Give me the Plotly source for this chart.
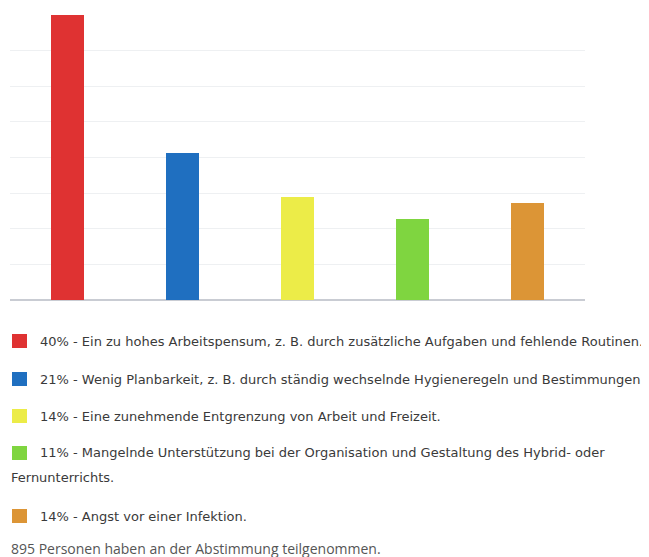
import plotly.graph_objects as go

# Data
categories = ["A", "B", "C", "D", "E"]
bar_values = [40, 20.7, 14.4, 11.4, 13.6]
percent_labels = ["40%", "21%", "14%", "11%", "14%"]
answers = [
    "Ein zu hohes Arbeitspensum, z. B. durch zusätzliche Aufgaben und fehlende Routinen.",
    "Wenig Planbarkeit, z. B. durch ständig wechselnde Hygieneregeln und Bestimmungen.",
    "Eine zunehmende Entgrenzung von Arbeit und Freizeit.",
    "Mangelnde Unterstützung bei der Organisation und Gestaltung des Hybrid- oder<br>Fernunterrichts.",
    "Angst vor einer Infektion.",
]
colors = ["#df3232", "#1f6fc0", "#ecec48", "#7fd540", "#dc9536"]
footer = "895 Personen haben an der Abstimmung teilgenommen."

OFF = 8  # page body margin
W, H = 649 - OFF, 557 - OFF
# plot area in page pixels: x 10..585, y 15..300
L = 10 - OFF
T = 15 - OFF
R = W - (585 - OFF)
B = H - (300 - OFF)
plot_h = H - T - B
plot_w = W - L - R

def px(x):
    return (x - OFF - L) / plot_w

def py(y):
    return (H - B - (y - OFF)) / plot_h

fig = go.Figure()
fig.add_trace(go.Bar(
    x=list(range(len(categories))), y=bar_values,
    marker=dict(color=colors, line=dict(width=0)),
    width=0.285, hoverinfo="skip",
))

text_font = dict(family="DejaVu Sans", size=13, color="#3a3a3a")
row_y = [341, 379, 416, 453, 516]
shapes = []
annotations = []
for i, (pct, ans, col) in enumerate(zip(percent_labels, answers, colors)):
    yc = row_y[i]
    shapes.append(dict(type="rect", xref="paper", yref="paper",
                       x0=px(12), x1=px(27), y0=py(yc + 7), y1=py(yc - 7),
                       fillcolor=col, line=dict(width=0)))
    parts = ans.split("<br>")
    annotations.append(dict(xref="paper", yref="paper", x=px(38), y=py(yc),
                            xanchor="left", yanchor="middle", showarrow=False,
                            text=f"{pct} - {parts[0]}", font=text_font))
    if len(parts) > 1:
        annotations.append(dict(xref="paper", yref="paper", x=px(9), y=py(477),
                                xanchor="left", yanchor="middle", showarrow=False,
                                text=parts[1], font=text_font))

annotations.append(dict(xref="paper", yref="paper", x=px(9), y=py(548),
                        xanchor="left", yanchor="middle", showarrow=False,
                        text=footer,
                        font=dict(family="Open Sans", size=14, color="#555555")))

fig.update_layout(
    width=W, height=H,
    margin=dict(l=L, r=R, t=T, b=B, pad=0),
    paper_bgcolor="white", plot_bgcolor="white",
    showlegend=False,
    bargap=0,
    xaxis=dict(range=[-0.5, 4.5], showticklabels=False, showgrid=False,
               zeroline=False, showline=False, ticks=""),
    yaxis=dict(range=[0, 40], dtick=5, showticklabels=False, showgrid=True,
               gridcolor="#eef0f2", gridwidth=1, zeroline=True,
               zerolinecolor="#c9ccd3", zerolinewidth=1.5, ticks=""),
    shapes=shapes,
    annotations=annotations,
)

fig.write_html("out.html")
